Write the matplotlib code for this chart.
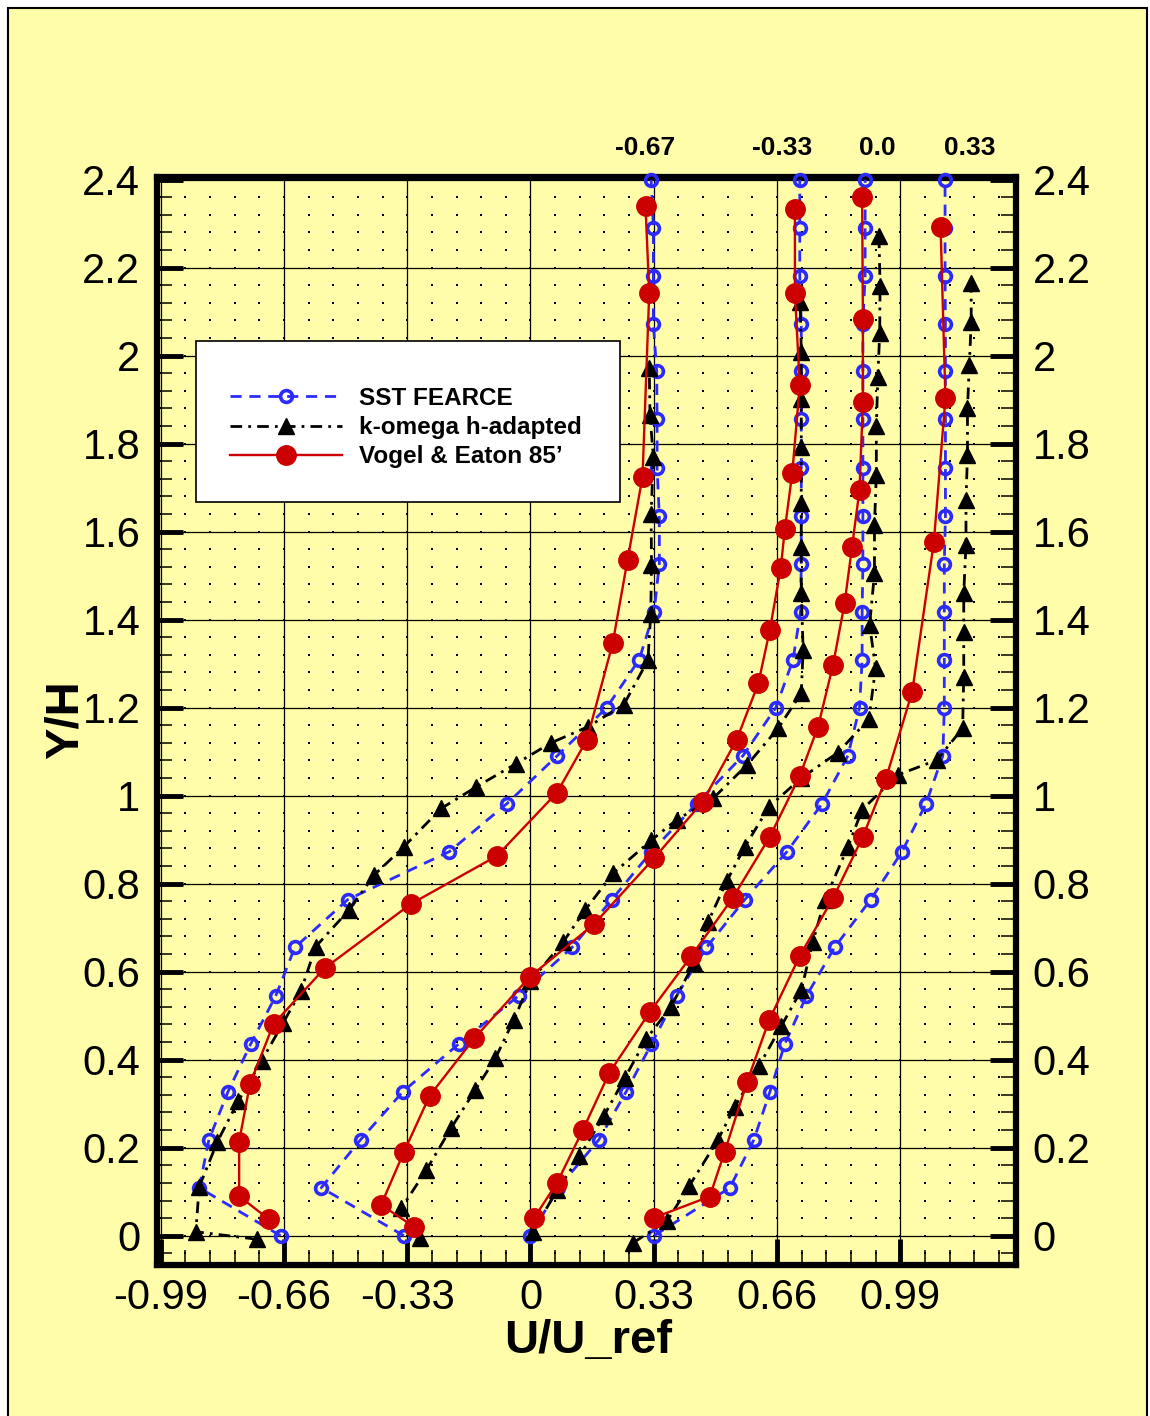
import numpy as np
import matplotlib
matplotlib.use('Agg')
import matplotlib.pyplot as plt
from matplotlib.patches import Rectangle
from matplotlib.lines import Line2D

plt.rcParams['font.family'] = ['Liberation Sans', 'DejaVu Sans']

# ---- data (plotted U/U_ref including station offset, Y/H) ----
# SST FEARCE: same Y/H grid for all four stations
y_sst = [0.0, 0.109, 0.218, 0.327, 0.436, 0.545, 0.655, 0.764, 0.873, 0.982, 1.091, 1.2,
         1.309, 1.418, 1.527, 1.636, 1.745, 1.855, 1.964, 2.073, 2.182, 2.291, 2.4]
u_sst_1 = [-0.669, -0.887, -0.861, -0.810, -0.749, -0.682, -0.631, -0.489, -0.217, -0.063, 0.072, 0.204,
           0.291, 0.331, 0.345, 0.345, 0.339, 0.339, 0.338, 0.329, 0.329, 0.329, 0.323]
u_sst_2 = [-0.339, -0.560, -0.455, -0.342, -0.192, -0.032, 0.111, 0.218, 0.324, 0.445, 0.569, 0.657,
           0.703, 0.723, 0.725, 0.725, 0.725, 0.725, 0.725, 0.725, 0.721, 0.721, 0.721]
u_sst_3 = [0.0, 0.075, 0.183, 0.256, 0.324, 0.391, 0.471, 0.574, 0.687, 0.781, 0.850, 0.881,
           0.888, 0.888, 0.890, 0.890, 0.890, 0.890, 0.890, 0.890, 0.896, 0.896, 0.896]
u_sst_4 = [0.331, 0.534, 0.598, 0.641, 0.681, 0.739, 0.814, 0.911, 0.995, 1.059, 1.104, 1.108,
           1.108, 1.108, 1.108, 1.111, 1.111, 1.111, 1.111, 1.111, 1.110, 1.110, 1.110]

# k-omega h-adapted
y_kw_1 = [-0.008, 0.009, 0.111, 0.214, 0.305, 0.397, 0.484, 0.555, 0.657, 0.74, 0.820, 0.884, 0.971,
          1.020, 1.073, 1.120, 1.157, 1.207, 1.308, 1.414, 1.524, 1.64, 1.77, 1.865, 1.971]
u_kw_1 = [-0.733, -0.896, -0.887, -0.838, -0.783, -0.720, -0.662, -0.615, -0.575, -0.486, -0.418, -0.339, -0.239,
          -0.145, -0.038, 0.055, 0.155, 0.250, 0.3145, 0.322, 0.324, 0.323, 0.329, 0.320, 0.318]
y_kw_2 = [-0.006, 0.062, 0.149, 0.244, 0.331, 0.403, 0.490, 0.578, 0.668, 0.740, 0.824, 0.899, 0.945,
          0.994, 1.070, 1.153, 1.233, 1.331, 1.460, 1.565, 1.665, 1.793, 1.901, 2.009, 2.123]
u_kw_2 = [-0.297, -0.346, -0.279, -0.213, -0.148, -0.094, -0.045, 0.0, 0.088, 0.146, 0.222, 0.324, 0.391,
          0.489, 0.580, 0.663, 0.725, 0.730, 0.725, 0.725, 0.725, 0.725, 0.725, 0.725, 0.722]
y_kw_3 = [0.009, 0.104, 0.180, 0.273, 0.359, 0.446, 0.519, 0.619, 0.714, 0.805, 0.884, 0.975, 1.040,
          1.098, 1.174, 1.290, 1.388, 1.505, 1.615, 1.729, 1.839, 1.952, 2.051, 2.159, 2.272]
u_kw_3 = [0.006, 0.072, 0.131, 0.197, 0.253, 0.309, 0.375, 0.438, 0.476, 0.525, 0.574, 0.639, 0.725,
          0.823, 0.906, 0.924, 0.908, 0.921, 0.921, 0.926, 0.926, 0.930, 0.935, 0.936, 0.933]
y_kw_4 = [-0.016, 0.034, 0.113, 0.218, 0.293, 0.386, 0.477, 0.558, 0.668, 0.763, 0.884, 0.968, 1.047,
          1.081, 1.153, 1.27, 1.373, 1.46, 1.570, 1.672, 1.774, 1.880, 1.979, 2.077, 2.165]
u_kw_4 = [0.275, 0.366, 0.425, 0.502, 0.547, 0.612, 0.672, 0.725, 0.756, 0.788, 0.850, 0.888, 0.983,
          1.088, 1.157, 1.160, 1.160, 1.160, 1.166, 1.166, 1.170, 1.170, 1.175, 1.180, 1.180]

# Vogel & Eaton 85' experiment
y_ve_1 = [0.037, 0.090, 0.214, 0.345, 0.481, 0.608, 0.754, 0.863, 1.007, 1.127, 1.346, 1.536, 1.725, 2.143, 2.340]
u_ve_1 = [-0.700, -0.780, -0.780, -0.751, -0.688, -0.551, -0.320, -0.090, 0.071, 0.151, 0.220, 0.260, 0.300, 0.318, 0.308]
y_ve_2 = [0.02, 0.07, 0.19, 0.318, 0.449, 0.589, 0.708, 0.858, 0.986, 1.127, 1.255, 1.377, 1.517, 1.605,
          1.734, 1.933, 2.143, 2.333]
u_ve_2 = [-0.311, -0.400, -0.339, -0.270, -0.150, -0.001, 0.170, 0.331, 0.461, 0.552, 0.610, 0.641, 0.670, 0.681,
          0.701, 0.721, 0.708, 0.708]
y_ve_3 = [0.041, 0.12, 0.24, 0.37, 0.509, 0.636, 0.767, 0.907, 1.045, 1.157, 1.297, 1.437, 1.566, 1.695,
          1.895, 2.083, 2.361]
u_ve_3 = [0.010, 0.071, 0.140, 0.211, 0.320, 0.431, 0.541, 0.641, 0.721, 0.770, 0.810, 0.841, 0.861, 0.881,
          0.890, 0.890, 0.888]
y_ve_4 = [0.041, 0.089, 0.191, 0.35, 0.490, 0.636, 0.767, 0.907, 1.037, 1.236, 1.576, 1.903, 2.293]
u_ve_4 = [0.331, 0.480, 0.520, 0.580, 0.639, 0.721, 0.810, 0.890, 0.951, 1.022, 1.080, 1.111, 1.098]

stations = ['-0.67', '-0.33', '0.0', '0.33']
station_x = [0.3065, 0.6726, 0.929, 1.175]

xticks = [-0.99, -0.66, -0.33, 0.0, 0.33, 0.66, 0.99]
xtick_labels = ['-0.99', '-0.66', '-0.33', '0', '0.33', '0.66', '0.99']
yticks = [0.0, 0.2, 0.4, 0.6, 0.8, 1.0, 1.2, 1.4, 1.6, 1.8, 2.0, 2.2, 2.4]
ytick_labels = ['0', '0.2', '0.4', '0.6', '0.8', '1', '1.2', '1.4', '1.6', '1.8', '2', '2.2', '2.4']

YELLOW = '#FFFDA9'
BLUE = '#2B2BFF'
RED = '#CC0000'

fig = plt.figure(figsize=(11.5, 14.16), dpi=100)
fig.patch.set_facecolor('white')
bg = Rectangle((7.5 / 1150, -0.01), 1139.5 / 1150, 1.01 - 8 / 1416, transform=fig.transFigure,
               facecolor=YELLOW, edgecolor='black', linewidth=1.5, zorder=-10)
fig.patches.append(bg)

ax = fig.add_axes([0.1365, 0.1066, 0.747, 0.7684])
ax.set_facecolor(YELLOW)
ax.set_xlim(-1.0, 1.3)
ax.set_ylim(-0.0667, 2.406)

# minor lattice of dots
xm = np.arange(-0.99, 1.3, 0.066)
ym = np.arange(-0.04, 2.41, 0.04)
XX, YY = np.meshgrid(xm, ym)
ax.plot(XX.ravel(), YY.ravel(), ls='none', marker='s', ms=1.7, mew=0, color='black', zorder=0.5)

# major grid
for xv in xticks:
    ax.axvline(xv, color='black', lw=0.9, zorder=0.6)
for yv in yticks:
    ax.axhline(yv, color='black', lw=0.9, zorder=0.6)

sst_style = dict(color=BLUE, ls=(0, (4, 2.8)), lw=2.0, marker='o', ms=8.5, mfc='none', mec=BLUE,
                 mew=2.6, clip_on=False, zorder=4)
kw_style = dict(color='black', ls=(0, (4.2, 2.2, 1.0, 2.2)), lw=2.0, marker='^', ms=11, mfc='black',
                mec='black', clip_on=False, zorder=5)
ve_style = dict(color=RED, ls='-', lw=1.7, marker='o', ms=14, mfc=RED, mec=RED, clip_on=False, zorder=6)

for u in [u_sst_1, u_sst_2, u_sst_3, u_sst_4]:
    ax.plot(u, y_sst, **sst_style)
for u, y in [(u_kw_1, y_kw_1), (u_kw_2, y_kw_2), (u_kw_3, y_kw_3), (u_kw_4, y_kw_4)]:
    ax.plot(u, y, **kw_style)
for u, y in [(u_ve_1, y_ve_1), (u_ve_2, y_ve_2), (u_ve_3, y_ve_3), (u_ve_4, y_ve_4)]:
    ax.plot(u, y, **ve_style)

# ticks
ax.set_xticks(xticks)
ax.set_xticklabels(xtick_labels)
ax.set_xticks(np.arange(-0.99, 1.3, 0.066), minor=True)
ax.set_yticks(yticks)
ax.set_yticklabels(ytick_labels)
ax.set_yticks(np.arange(-0.04, 2.41, 0.04), minor=True)
ax.tick_params(which='major', direction='in', length=19, width=3.5, labelsize=30, pad=12,
               left=True, right=True, bottom=True, top=False, labelright=True)
ax.tick_params(axis='x', which='major', pad=9)
ax.tick_params(which='minor', direction='in', length=11, width=1.1,
               left=True, right=True, bottom=True, top=False)
for s in ax.spines.values():
    s.set_linewidth(4.5)
    s.set_zorder(3)

# station labels above the frame
for lab, xs in zip(stations, station_x):
    ax.text(xs, 2.472, lab, fontsize=19, fontweight='bold', ha='center', va='center')

fig.text(66 / 1150, 1 - 720 / 1416, 'Y/H', rotation=90, fontsize=34, fontweight='bold',
         ha='center', va='center')
fig.text(588 / 1150, 1 - 1341 / 1416, 'U/U_ref', fontsize=34, fontweight='bold',
         ha='center', va='center')

# legend with a large white box
ax.add_patch(Rectangle((0.045, 0.701), 0.494, 0.148, transform=ax.transAxes, facecolor='white',
                       edgecolor='black', lw=1.2, zorder=7))
handles = [Line2D([], [], **{k: v for k, v in sst_style.items() if k not in ('clip_on', 'zorder')}),
           Line2D([], [], **{k: v for k, v in kw_style.items() if k not in ('clip_on', 'zorder')}),
           Line2D([], [], **{k: v for k, v in ve_style.items() if k not in ('clip_on', 'zorder')})]
leg = ax.legend(handles, ['SST FEARCE', 'k-omega h-adapted', 'Vogel & Eaton 85\u2019'],
                loc='upper left', bbox_to_anchor=(0.085, 0.807), frameon=False, borderpad=0,
                borderaxespad=0, handlelength=4.6, handletextpad=0.7, labelspacing=0.25,
                prop={'size': 17.5, 'weight': 'bold'})
leg.set_zorder(8)

fig.savefig('out.png', dpi=100)
